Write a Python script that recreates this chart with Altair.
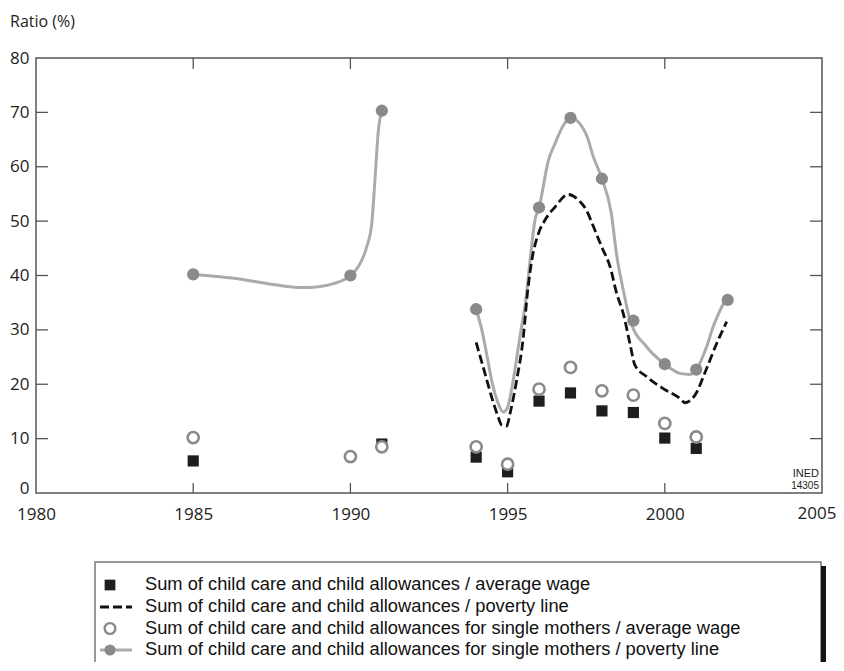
import altair as alt
import pandas as pd

# ---- data ----
sq_years = [1985, 1991, 1994, 1995, 1996, 1997, 1998, 1999, 2000, 2001]
sq_vals = [5.9, 9.0, 6.6, 3.9, 16.9, 18.4, 15.1, 14.8, 10.1, 8.2]

oc_years = [1985, 1990, 1991, 1994, 1995, 1996, 1997, 1998, 1999, 2000, 2001]
oc_vals = [10.2, 6.7, 8.5, 8.5, 5.3, 19.1, 23.1, 18.8, 18.0, 12.8, 10.3]

fc_years = [1985, 1990, 1991, 1994, 1996, 1997, 1998, 1999, 2000, 2001, 2002]
fc_vals = [40.2, 40.0, 70.3, 33.8, 52.5, 69.0, 57.8, 31.7, 23.7, 22.7, 35.5]

# grey curve (single mothers / poverty line), two pieces
greyA_x = [1985.0, 1986.3, 1987.6, 1988.4, 1988.93, 1989.46, 1990.0, 1990.25,
           1990.52, 1990.68, 1990.78, 1990.89, 1991.0]
greyA_y = [40.2, 39.5, 38.3, 37.8, 37.9, 38.5, 40.0, 41.6, 45.3, 49.6, 57.5, 66.7, 70.3]

greyB_x = [1994.0, 1994.18, 1994.39, 1994.49, 1994.70, 1994.86, 1994.99, 1995.18,
           1995.39, 1995.58, 1995.72, 1995.87, 1996.0, 1996.30, 1996.51, 1996.77,
           1997.0, 1997.51, 1997.73, 1998.0, 1998.30, 1998.46, 1998.68, 1998.9,
           1999.42, 2000.0, 2000.48, 2000.80, 2001.0, 2001.33, 2001.54, 2001.92]
greyB_y = [33.8, 30.0, 23.8, 20.8, 16.5, 14.9, 15.6, 20.8, 28.7, 35.5, 43.0, 50.2,
           52.5, 61.2, 64.3, 67.6, 69.0, 65.8, 61.8, 57.8, 51.4, 44.1, 37.3, 31.7,
           26.9, 23.7, 22.0, 21.8, 22.7, 26.9, 30.6, 35.5]

# dashed curve (all families / poverty line)
dash_x = [1994.0, 1994.28, 1994.49, 1994.70, 1994.81, 1994.97, 1995.08, 1995.29,
          1995.5, 1995.63, 1995.77, 1995.98, 1996.19, 1996.51, 1996.93, 1997.25,
          1997.51, 1997.73, 1997.99, 1998.26, 1998.47, 1998.68, 1998.89, 1999.05,
          1999.42, 1999.95, 2000.48, 2000.64, 2000.96, 2001.33, 2001.65, 2001.97]
dash_y = [27.7, 22.0, 17.7, 14.0, 12.5, 12.3, 14.7, 20.8, 28.7, 36.7, 42.8, 47.7,
          50.2, 52.6, 54.9, 53.9, 52.0, 49.0, 45.3, 41.6, 36.7, 33.0, 27.5, 23.5,
          21.4, 19.2, 17.4, 16.6, 18.0, 22.9, 27.5, 31.5]

x_ticks = [1980, 1985, 1990, 1995, 2000, 2005]
last_x_tick = [2005]
inner_x_ticks = [1985, 1990, 1995, 2000]
y_ticks = [0, 10, 20, 30, 40, 50, 60, 70, 80]
inner_y_ticks = [10, 20, 30, 40, 50, 60, 70]

legend_labels = [
    "Sum of child care and child allowances / average wage",
    "Sum of child care and child allowances / poverty line",
    "Sum of child care and child allowances for single mothers / average wage",
    "Sum of child care and child allowances for single mothers / poverty line",
]

W, H = 786, 435
AX_FONT = "Open Sans"
LG_FONT = "Liberation Sans"
GREY_LINE = "#ababab"
GREY_DOT = "#8a8a8a"
FRAME = "#555555"
LBL_PAD = 13

xs = alt.Scale(domain=[1980, 2005], nice=False, zero=False)
ys = alt.Scale(domain=[0, 80], nice=False)

sq_df = pd.DataFrame({"year": sq_years, "v": sq_vals})
oc_df = pd.DataFrame({"year": oc_years, "v": oc_vals})
fc_df = pd.DataFrame({"year": fc_years, "v": fc_vals})
ga_df = pd.DataFrame({"year": greyA_x, "v": greyA_y})
gb_df = pd.DataFrame({"year": greyB_x, "v": greyB_y})
ds_df = pd.DataFrame({"year": dash_x, "v": dash_y})

X = alt.X("year:Q", scale=xs,
          axis=alt.Axis(values=x_ticks, format="d", title="", grid=False, domain=False,
                        ticks=False, tickSize=0, labelFontSize=17, labelFont=AX_FONT,
                        labelColor="#222", labelPadding=LBL_PAD, labelFlush=False,
                        labelExpr="datum.value == 2005 ? '' : datum.label"))
Y = alt.Y("v:Q", scale=ys,
          axis=alt.Axis(values=y_ticks, title="", grid=False, domain=False, ticks=False,
                        tickSize=0, labelFontSize=17, labelFont=AX_FONT, labelColor="#222",
                        labelPadding=7,
                        labelBaseline={"condition": {"test": "datum.value === 0",
                                                     "value": "alphabetic"},
                                       "value": "middle"}))

greyA = alt.Chart(ga_df).mark_line(color=GREY_LINE, strokeWidth=3, interpolate="monotone").encode(x=X, y=Y)
greyB = alt.Chart(gb_df).mark_line(color=GREY_LINE, strokeWidth=3, interpolate="monotone").encode(x="year:Q", y="v:Q")
dashed = alt.Chart(ds_df).mark_line(color="#111", strokeWidth=2.8, strokeDash=[9, 4],
                                    interpolate="monotone").encode(x="year:Q", y="v:Q")
squares = alt.Chart(sq_df).mark_point(shape="square", filled=True, color="#1e1e1e",
                                      size=125, opacity=1).encode(x="year:Q", y="v:Q")
ocircles = alt.Chart(oc_df).mark_point(shape="circle", filled=False, fill="white",
                                       stroke=GREY_DOT, strokeWidth=2.6, size=125,
                                       opacity=1, fillOpacity=1).encode(x="year:Q", y="v:Q")
fcircles = alt.Chart(fc_df).mark_point(shape="circle", filled=True, color=GREY_DOT,
                                       size=150, opacity=1).encode(x="year:Q", y="v:Q")

# last x label, nudged so it stays inside the page
last_lbl = alt.Chart(pd.DataFrame({"year": last_x_tick})).mark_text(
    align="center", baseline="top", font=AX_FONT, fontSize=17, color="#222", dx=-5
).encode(x="year:Q", y=alt.value(H + LBL_PAD), text=alt.Text("year:Q", format="d"))

# inward ticks
xt_df = pd.DataFrame({"year": inner_x_ticks})
yt_df = pd.DataFrame({"v": inner_y_ticks})
tick_top = alt.Chart(xt_df).mark_rule(color=FRAME, strokeWidth=1.3).encode(
    x="year:Q", y=alt.value(0), y2=alt.value(11))
tick_bot = alt.Chart(xt_df).mark_rule(color=FRAME, strokeWidth=1.3).encode(
    x="year:Q", y=alt.value(H), y2=alt.value(H - 10))
tick_left = alt.Chart(yt_df).mark_rule(color=FRAME, strokeWidth=1.3).encode(
    y="v:Q", x=alt.value(0), x2=alt.value(12))
tick_right = alt.Chart(yt_df).mark_rule(color=FRAME, strokeWidth=1.3).encode(
    y="v:Q", x=alt.value(W), x2=alt.value(W - 12))

# texts
one = pd.DataFrame({"k": [0]})
ratio_title = alt.Chart(one).mark_text(text="Ratio (%)", align="left", baseline="alphabetic",
                                       font=AX_FONT, fontSize=16, color="#222").encode(
    x=alt.value(-26), y=alt.value(-31))
ined1 = alt.Chart(one).mark_text(text="INED", align="right", baseline="alphabetic",
                                 font="Liberation Sans", fontSize=11, color="#222").encode(
    x=alt.value(783), y=alt.value(419))
ined2 = alt.Chart(one).mark_text(text="14305", align="right", baseline="alphabetic",
                                 font="Liberation Sans", fontSize=10, color="#222").encode(
    x=alt.value(783), y=alt.value(431))

# legend box
LB_L, LB_R, LB_T, LB_B = 59, 785, 504, 660
box = alt.Chart(one).mark_rect(fill="white", stroke="#777", strokeWidth=1.5).encode(
    x=alt.value(LB_L), x2=alt.value(LB_R), y=alt.value(LB_T), y2=alt.value(LB_B))
shadow = alt.Chart(one).mark_rect(fill="#151515").encode(
    x=alt.value(LB_R), x2=alt.value(LB_R + 5), y=alt.value(LB_T + 4), y2=alt.value(LB_B))

row_y = [527, 549, 570.5, 592]
SYM_X = 74
leg_layers = [box, shadow]
for i, lab in enumerate(legend_labels):
    d = pd.DataFrame({"label": [lab]})
    leg_layers.append(alt.Chart(d).mark_text(align="left", baseline="middle", font=LG_FONT,
                                             fontSize=18.3, color="#111").encode(
        text="label:N", x=alt.value(109), y=alt.value(row_y[i])))
leg_layers.append(alt.Chart(one).mark_point(shape="square", filled=True, color="#1e1e1e",
                                            size=115, opacity=1).encode(
    x=alt.value(SYM_X), y=alt.value(row_y[0])))
leg_layers.append(alt.Chart(one).mark_rule(color="#111", strokeWidth=2.8, strokeDash=[9, 4]).encode(
    x=alt.value(64), x2=alt.value(96), y=alt.value(row_y[1])))
leg_layers.append(alt.Chart(one).mark_point(shape="circle", filled=False, fill="white",
                                            stroke=GREY_DOT, strokeWidth=2.4, size=115,
                                            opacity=1).encode(
    x=alt.value(SYM_X), y=alt.value(row_y[2])))
leg_layers.append(alt.Chart(one).mark_rule(color=GREY_LINE, strokeWidth=3).encode(
    x=alt.value(64), x2=alt.value(96), y=alt.value(row_y[3])))
leg_layers.append(alt.Chart(one).mark_point(shape="circle", filled=True, color=GREY_DOT,
                                            size=125, opacity=1).encode(
    x=alt.value(SYM_X), y=alt.value(row_y[3])))

chart = alt.layer(
    greyA, greyB, dashed, squares, ocircles, fcircles,
    tick_top, tick_bot, tick_left, tick_right, last_lbl,
    ratio_title, ined1, ined2, *leg_layers
).properties(
    width=W, height=H,
    autosize=alt.AutoSizeParams(type="none"),
    padding={"left": 28, "top": 50, "right": 14, "bottom": 169},
).configure_view(stroke=FRAME, strokeWidth=1.5)

chart.save("out.html", embed_options={"renderer": "svg", "actions": False})
